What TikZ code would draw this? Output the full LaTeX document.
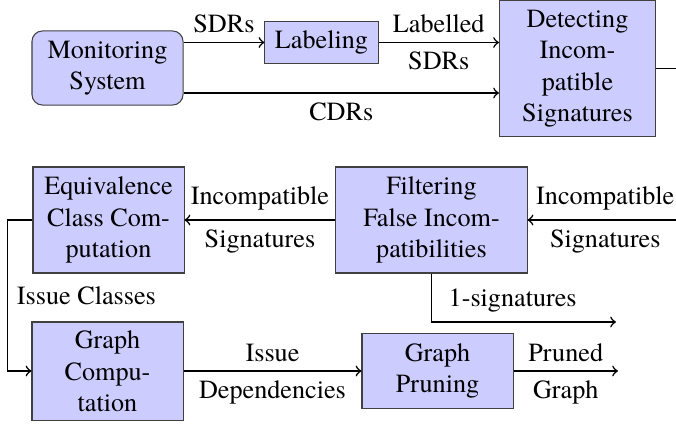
\documentclass[tikz,border=0pt]{standalone}
\usepackage{fontspec}
\setmainfont{TeX Gyre Termes}
\begin{document}
\begin{tikzpicture}[x=0.382pt,y=-0.382pt,
  box/.style={draw=black!75,fill=blue!20,align=center,inner sep=0pt},
  conn/.style={semithick,->},
  lab/.style={inner sep=3.33pt}]
\useasboundingbox (0,0) rectangle (676,424);
\node[box,rounded corners=4pt,minimum width=57.7pt,minimum height=28.3pt] (mon) at (107.5,68) {Monitoring\\System};
\node[box,minimum width=43.2pt,minimum height=15.7pt] (lab) at (321.5,42.5) {Labeling};
\node[box,minimum width=59.6pt,minimum height=52.3pt] (det) at (577.5,68.5) {Detecting\\Incom-\\patible\\Signatures};
\node[box,minimum width=57.7pt,minimum height=40.5pt] (eq) at (108.5,220) {Equivalence\\Class Com-\\putation};
\node[box,minimum width=73pt,minimum height=40.5pt] (fil) at (431.5,220) {Filtering\\False Incom-\\patibilities};
\node[box,minimum width=57.7pt,minimum height=37.8pt] (gc) at (107.5,371.5) {Graph\\Compu-\\tation};
\node[box,minimum width=57.7pt,minimum height=28.3pt] (gp) at (437.5,371) {Graph\\Pruning};
\coordinate (detout) at (700,68.5);
\coordinate (filin) at (683,220);
\coordinate (sig1) at (616,322);
\coordinate (pout) at (618,371);
\draw[conn] (mon.east |- lab.west) -- node[lab,above]{SDRs} (lab.west);
\draw[conn] (lab.east) -- node[lab,above]{Labelled} node[lab,below]{SDRs} (lab.east -| det.west);
\draw[conn] ([yshift=-9.55pt]mon.east) -- node[lab,below]{CDRs} ([yshift=-9.55pt]mon.east -| det.west);
\draw[semithick] (det.east) -- (detout);
\draw[conn] (filin) -- node[lab,above]{Incompatible} node[lab,below]{Signatures} (fil.east);
\draw[conn] (fil.west) -- node[lab,above]{Incompatible} node[lab,below]{Signatures} (eq.east);
\draw[conn] (eq.west) -- ++(-25,0) |- node[lab,pos=0.25,right]{Issue Classes} (gc.west |- gp.west);
\draw[conn] (fil.south) |- node[lab,pos=0.72,above]{1-signatures} (sig1);
\draw[conn] (gc.east |- gp.west) -- node[lab,above]{Issue} node[lab,below]{Dependencies} (gp.west);
\draw[conn] (gp.east) -- node[lab,above]{Pruned} node[lab,below]{Graph} (pout);
\end{tikzpicture}
\end{document}
